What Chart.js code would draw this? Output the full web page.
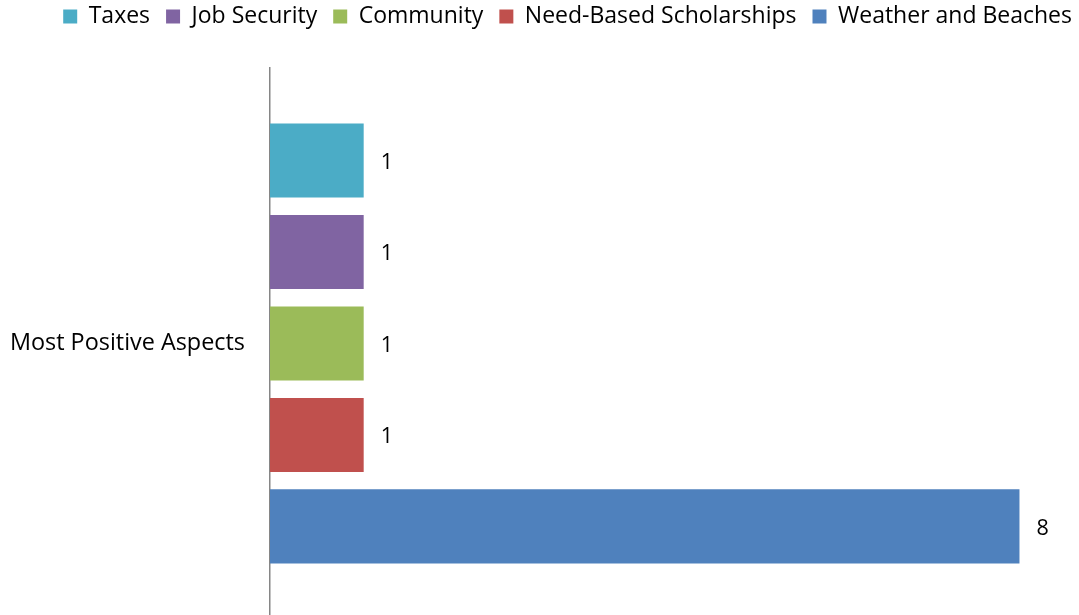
<!doctype html>
<html lang="en">
<head>
  <meta charset="utf-8">
  <title>Most Positive Aspects</title>
  <script src="https://cdn.jsdelivr.net/npm/chart.js/dist/chart.umd.min.js"></script>
  <style>
    html, body { margin: 0; padding: 0; background: #fff; overflow: hidden; }
    canvas { display: block; }
  </style>
</head>
<body>
  <canvas id="myChart" width="1079" height="658"></canvas>
  <script>
    const categories = ['Most Positive Aspects'];
    const seriesNames = ['Taxes', 'Job Security', 'Community', 'Need-Based Scholarships', 'Weather and Beaches'];
    const seriesValues = [1, 1, 1, 1, 8];
    const seriesColors = ['#4BACC6', '#8064A2', '#9BBB59', '#C0504D', '#4F81BD'];

    const FONT = '"Open Sans", "Noto Sans", sans-serif';

    // value labels to the right of each bar
    const barLabels = {
      id: 'barLabels',
      afterDatasetsDraw(chart) {
        const ctx = chart.ctx;
        ctx.save();
        ctx.font = '21.5px ' + FONT;
        ctx.fillStyle = '#000';
        ctx.textBaseline = 'middle';
        chart.data.datasets.forEach((ds, i) => {
          chart.getDatasetMeta(i).data.forEach((bar, j) => {
            ctx.fillText(String(ds.data[j]), bar.x + 17, bar.y + 2);
          });
        });
        ctx.restore();
      }
    };

    // fixed legend band; legend row nudged up and to the right edge
    const legendBand = {
      id: 'legendBand',
      beforeInit(chart) {
        const fit = chart.legend.fit;
        chart.legend.fit = function () {
          fit.bind(chart.legend)();
          this.height = 68;
        };
      },
      afterLayout(chart) {
        const lg = chart.legend;
        lg.top -= 11;
        lg.bottom -= 11;
        lg.left += 17;
        lg.right += 17;
      }
    };

    const data = {
      labels: categories,
      datasets: seriesNames.map((name, i) => ({
        label: name,
        data: [seriesValues[i]],
        backgroundColor: seriesColors[i],
        borderWidth: 0,
        categoryPercentage: 0.83,
        barPercentage: 0.81
      }))
    };

    new Chart(document.getElementById('myChart'), {
      type: 'bar',
      data,
      options: {
        indexAxis: 'y',
        responsive: false,
        animation: false,
        layout: { padding: { left: 0, right: 8, top: 0, bottom: 5 } },
        plugins: {
          legend: {
            position: 'top',
            align: 'end',
            labels: {
              boxWidth: 14,
              boxHeight: 14,
              padding: 16,
              color: '#000',
              font: { family: FONT, size: 23 }
            }
          },
          tooltip: { enabled: false }
        },
        scales: {
          x: {
            min: 0,
            max: 8.55,
            display: false
          },
          y: {
            afterFit(scale) { scale.width = 270; },
            grid: { display: false, drawTicks: false },
            border: { display: true, color: '#868686', width: 1.5 },
            ticks: {
              padding: 25,
              color: '#000',
              font: { family: FONT, size: 23.4 }
            }
          }
        }
      },
      plugins: [barLabels, legendBand]
    });
  </script>
</body>
</html>
